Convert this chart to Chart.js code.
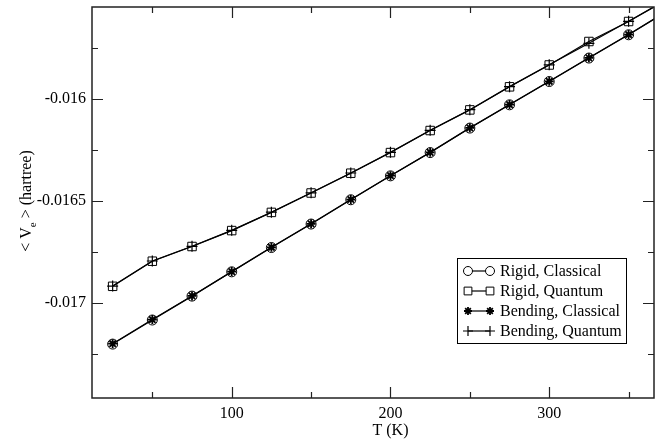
<!DOCTYPE html>
<html>
<head>
<meta charset="utf-8">
<script src="https://cdn.jsdelivr.net/npm/chart.js@4/dist/chart.umd.min.js"></script>
<style>
  html, body { margin: 0; padding: 0; background: #fff; }
  #wrap { width: 667px; height: 441px; }
</style>
</head>
<body>
<div id="wrap"><canvas id="chart" width="667" height="441"></canvas></div>
<script>
// temperaturas (K) y <Ve> en hartree
const temps = [25, 50, 75, 100, 125, 150, 175, 200, 225, 250, 275, 300, 325, 350, 375];
const rigidClassical   = [-0.017201, -0.017083, -0.016966, -0.016847, -0.016728, -0.016613, -0.016494, -0.016377, -0.016263, -0.016143, -0.016029, -0.015915, -0.015800, -0.015686, -0.015567];
const rigidQuantum     = [-0.016918, -0.016795, -0.016723, -0.016645, -0.016556, -0.016461, -0.016364, -0.016263, -0.016155, -0.016054, -0.015941, -0.015834, -0.015719, -0.015621, -0.015510];
const bendingClassical = [-0.017199, -0.017081, -0.016965, -0.016846, -0.016727, -0.016612, -0.016493, -0.016376, -0.016262, -0.016142, -0.016028, -0.015914, -0.015799, -0.015685, -0.015566];
const bendingQuantum   = [-0.016917, -0.016794, -0.016722, -0.016644, -0.016555, -0.016460, -0.016363, -0.016262, -0.016154, -0.016053, -0.015940, -0.015833, -0.015728, -0.015620, -0.015509];

const xMajor = [100, 200, 300];
const xMinor = [50, 150, 250, 350];
const yMajor = [-0.017, -0.0165, -0.016];
const yMinor = [-0.01725, -0.01675, -0.01625, -0.01575];
const yLabels = ['-0.017', '-0.0165', '-0.016'];

const FONT = '"Liberation Serif", "DejaVu Serif", serif';

function pts(arr) {
    return temps.map((t, i) => ({ x: t, y: arr[i] }));
}

function series(label, arr, style, radius, pw) {
    return {
        label: label,
        data: pts(arr),
        borderColor: '#000',
        backgroundColor: 'rgba(0,0,0,0)',
        borderWidth: 1.2,
        pointStyle: style,
        pointRadius: radius,
        pointBorderColor: '#000',
        pointBackgroundColor: 'rgba(0,0,0,0)',
        pointBorderWidth: pw,
        tension: 0
    };
}

// ticks hacia dentro, marco, título del eje Y con subíndice y leyenda propia
const decorations = {
    id: 'decorations',
    afterDraw(chart) {
        const { ctx, chartArea: a, scales: { x, y } } = chart;
        ctx.save();
        ctx.strokeStyle = '#222';
        ctx.lineWidth = 1.5;
        ctx.strokeRect(a.left, a.top, a.right - a.left, a.bottom - a.top);

        ctx.lineWidth = 1.2;
        ctx.beginPath();
        const xt = (v, len) => {
            const px = Math.round(x.getPixelForValue(v)) + 0.5;
            ctx.moveTo(px, a.bottom); ctx.lineTo(px, a.bottom - len);
            ctx.moveTo(px, a.top); ctx.lineTo(px, a.top + len);
        };
        const yt = (v, len) => {
            const py = Math.round(y.getPixelForValue(v)) + 0.5;
            ctx.moveTo(a.left, py); ctx.lineTo(a.left + len, py);
            ctx.moveTo(a.right, py); ctx.lineTo(a.right - len, py);
        };
        xMajor.forEach(v => xt(v, 11));
        xMinor.forEach(v => xt(v, 6));
        yMajor.forEach(v => yt(v, 11));
        yMinor.forEach(v => yt(v, 6));
        ctx.stroke();

        // título eje X
        ctx.fillStyle = '#000';
        ctx.font = '16px ' + FONT;
        ctx.textAlign = 'center';
        ctx.textBaseline = 'middle';
        ctx.fillText('T (K)', x.getPixelForValue(200), 431);

        // título eje Y: < Ve > (hartree)
        ctx.save();
        ctx.translate(27, 201);
        ctx.rotate(-Math.PI / 2);
        ctx.textAlign = 'left';
        const partA = '< V', partB = 'e', partC = ' > (hartree)';
        ctx.font = '16px ' + FONT;
        const wA = ctx.measureText(partA).width;
        const wC = ctx.measureText(partC).width;
        ctx.font = '11px ' + FONT;
        const wB = ctx.measureText(partB).width;
        let sx = -(wA + wB + wC) / 2;
        ctx.font = '16px ' + FONT;
        ctx.fillText(partA, sx, 0);
        sx += wA;
        ctx.font = '11px ' + FONT;
        ctx.fillText(partB, sx, 6);
        sx += wB;
        ctx.font = '16px ' + FONT;
        ctx.fillText(partC, sx, 0);
        ctx.restore();

        // leyenda
        ctx.fillStyle = '#fff';
        ctx.fillRect(457, 258, 169, 85);
        ctx.strokeStyle = '#000';
        ctx.lineWidth = 1;
        ctx.strokeRect(457.5, 258.5, 169, 85);
        const rows = [271, 291, 311, 331];
        chart.data.datasets.forEach((ds, i) => {
            const ly = rows[i];
            ctx.strokeStyle = '#000';
            ctx.lineWidth = ds.borderWidth;
            ctx.beginPath();
            ctx.moveTo(468, ly); ctx.lineTo(490, ly);
            ctx.stroke();
            ctx.fillStyle = '#fff';
            ctx.lineWidth = ds.pointBorderWidth;
            [468, 490].forEach(px => {
                Chart.helpers.drawPoint(ctx, {
                    pointStyle: ds.pointStyle, radius: ds.pointRadius - 0.5, rotation: 0, borderWidth: ds.pointBorderWidth
                }, px, ly);
            });
            ctx.fillStyle = '#000';
            ctx.font = '16px ' + FONT;
            ctx.textAlign = 'left';
            ctx.textBaseline = 'middle';
            ctx.fillText(ds.label, 500, ly + 1);
        });
        ctx.restore();
    }
};

new Chart(document.getElementById('chart'), {
    type: 'line',
    data: {
        datasets: [
            series('Rigid, Classical', rigidClassical, 'circle', 5, 1),
            series('Rigid, Quantum', rigidQuantum, 'rect', 6, 1),
            series('Bending, Classical', bendingClassical, 'star', 4.5, 1.8),
            series('Bending, Quantum', bendingQuantum, 'cross', 5.5, 1.2)
        ]
    },
    options: {
        responsive: false,
        animation: false,
        layout: { padding: { left: 0, right: 13, top: 5, bottom: 0 } },
        plugins: {
            legend: { display: false },
            tooltip: { enabled: false },
            title: { display: false }
        },
        scales: {
            x: {
                type: 'linear',
                min: 12,
                max: 366,
                grid: { display: false, drawTicks: false },
                border: { display: false },
                afterBuildTicks: s => { s.ticks = xMajor.map(v => ({ value: v })); },
                afterFit: s => { s.height = 43; s.paddingLeft = 0; s.paddingRight = 0; },
                ticks: {
                    padding: 6,
                    color: '#000',
                    font: { family: FONT, size: 16 },
                    maxRotation: 0,
                    callback: v => String(v)
                }
            },
            y: {
                type: 'linear',
                min: -0.017465,
                max: -0.01555,
                grid: { display: false, drawTicks: false },
                border: { display: false },
                afterBuildTicks: s => { s.ticks = yMajor.map(v => ({ value: v })); },
                afterFit: s => { s.width = 92; s.paddingTop = 0; s.paddingBottom = 0; },
                ticks: {
                    padding: 6,
                    color: '#000',
                    font: { family: FONT, size: 16 },
                    callback: v => yLabels[yMajor.indexOf(v)]
                }
            }
        }
    },
    plugins: [decorations]
});
</script>
</body>
</html>
